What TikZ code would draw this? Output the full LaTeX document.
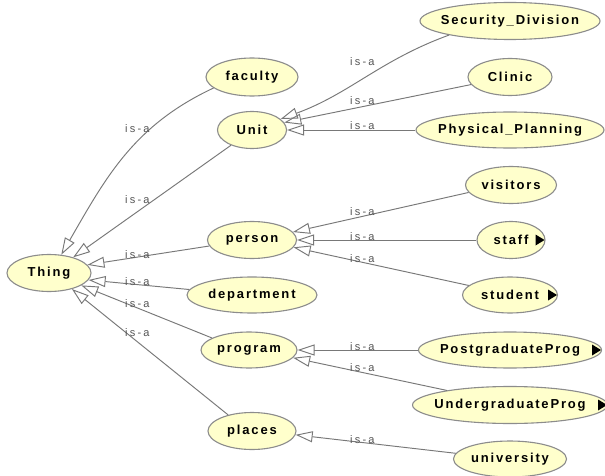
\documentclass[tikz,border=0pt]{standalone}
\usepackage{fontspec}
\setmainfont{Liberation Sans}
\newfontfamily\clsfont{Liberation Sans}[LetterSpace=14]
\newfontfamily\isafont{Liberation Sans}[LetterSpace=20]
\usetikzlibrary{arrows.meta, shapes.geometric}

\definecolor{clsfill}{RGB}{255,255,204}
\definecolor{clsborder}{RGB}{140,140,140}
\definecolor{edgegray}{RGB}{120,120,120}
\definecolor{isagray}{RGB}{85,85,85}

% black marker for classes that have subclasses hidden
\newcommand\moremark[1]{\fill[black] (#1.east) ++(-1,0) -- ++(-9,-5.5) -- ++(0,11) -- cycle;}

\begin{document}
\begin{tikzpicture}[x=1pt, y=-1pt,
  cls/.style={ellipse, draw=clsborder, fill=clsfill, line width=1.1pt,
    inner sep=0pt, font={\clsfont\bfseries\fontsize{13}{15}\selectfont}},
  isa/.style={anchor=base west, inner sep=0pt, text=isagray,
    font={\isafont\fontsize{11}{13}\selectfont}},
  isaedge/.style={draw=edgegray, line width=0.95pt,
    -{Triangle[open, length=17pt, width=11pt]}}]

\path[use as bounding box, fill=white] (0,0) rectangle (605,476);

% classes
\node[cls, minimum width=84, minimum height=37] (thing) at (49,273) {\makebox[0pt]{Thing}};
\node[cls, minimum width=92, minimum height=38] (faculty) at (252,77) {\makebox[0pt]{faculty}};
\node[cls, minimum width=69, minimum height=37] (unit) at (252,130) {\makebox[0pt]{Unit}};
\node[cls, minimum width=89, minimum height=37] (person) at (252,240) {\makebox[0pt]{person}};
\node[cls, minimum width=130, minimum height=36] (department) at (252,295) {\makebox[0pt]{department}};
\node[cls, minimum width=96, minimum height=36] (program) at (249,350) {\makebox[0pt]{program}};
\node[cls, minimum width=88, minimum height=37] (places) at (252,431) {\makebox[0pt]{places}};

\node[cls, minimum width=180, minimum height=37] (security) at (510,21) {\makebox[0pt]{Security\_Division}};
\node[cls, minimum width=84, minimum height=37] (clinic) at (510,77) {\makebox[0pt]{Clinic}};
\node[cls, minimum width=188, minimum height=36] (physical) at (510,130) {\makebox[0pt]{Physical\_Planning}};
\node[cls, minimum width=91, minimum height=37] (visitors) at (511,185) {\makebox[0pt]{visitors}};
\node[cls, minimum width=68, minimum height=37] (staff) at (511,240) {\makebox[0pt]{staff}};
\node[cls, minimum width=95, minimum height=36] (student) at (510,295) {\makebox[0pt]{student}};
\node[cls, minimum width=183, minimum height=36] (postgrad) at (510,350) {\makebox[0pt]{PostgraduateProg}};
\node[cls, minimum width=195, minimum height=37] (undergrad) at (510,405) {\makebox[0pt]{UndergraduateProg}};
\node[cls, minimum width=113, minimum height=36] (university) at (510,459) {\makebox[0pt]{university}};

\moremark{staff}
\moremark{student}
\moremark{postgrad}
\moremark{undergrad}

% subclass links into Thing
\draw[isaedge] (faculty.196) to[out=205, in=60] (thing.56);
\draw[isaedge] (unit.216) -- (thing.33);
\draw[isaedge] (person.188) -- (thing.12);
\draw[isaedge] (department.175) -- (thing.-10);
\draw[isaedge] (program.162) -- (thing.-21);
\draw[isaedge] (places.146) -- (thing.-35);

% subclass links into the second level
\draw[isaedge] (security.193) to[out=200, in=20] (unit.21);
\draw[isaedge] (clinic.191) -- (unit.13);
\draw[isaedge] (physical.west) -- (unit.east);
\draw[isaedge] (visitors.190) -- (person.11);
\draw[isaedge] (staff.west) -- (person.east);
\draw[isaedge] (student.167) -- (person.-10);
\draw[isaedge] (postgrad.west) -- (program.east);
\draw[isaedge] (undergrad.167) -- (program.-10);
\draw[isaedge] (university.174) -- (places.-5);

% is-a labels
\node[isa] (l1) at (125,132) {is-a};
\node[isa] (l2) at (125,203) {is-a};
\node[isa] (l3) at (125,258) {is-a};
\node[isa] (l4) at (125,285) {is-a};
\node[isa] (l5) at (125,307) {is-a};
\node[isa] (l6) at (125,336) {is-a};
\node[isa] (l7) at (350,66) {is-a};
\node[isa] (l8) at (350,105) {is-a};
\node[isa] (l9) at (350,130) {is-a};
\node[isa] (l10) at (350,215) {is-a};
\node[isa] (l11) at (350,240) {is-a};
\node[isa] (l12) at (350,262) {is-a};
\node[isa] (l13) at (350,350) {is-a};
\node[isa] (l14) at (350,371) {is-a};
\node[isa] (l15) at (350,443) {is-a};
\end{tikzpicture}
\end{document}
